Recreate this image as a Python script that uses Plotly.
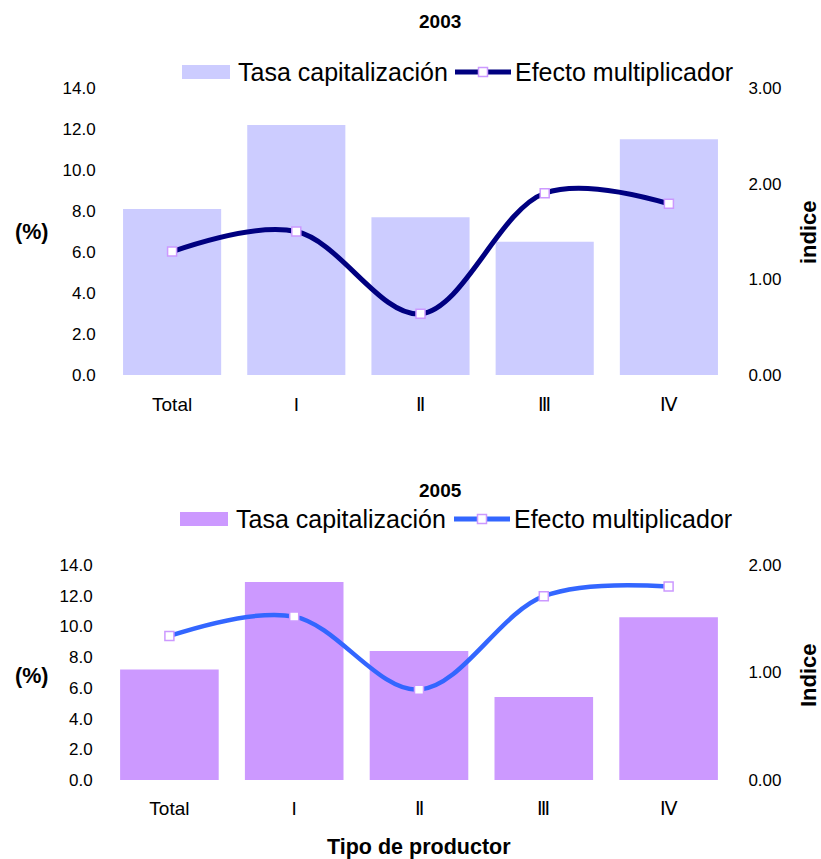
import plotly.graph_objects as go

W, H = 821, 859

categories = ["Total", "I", "Ⅱ", "Ⅲ", "Ⅳ"]
rate_2003 = [8.1, 12.2, 7.7, 6.5, 11.5]
mult_2003 = [1.29, 1.50, 0.64, 1.90, 1.79]
rate_2005 = [7.2, 12.9, 8.4, 5.4, 10.6]
mult_2005 = [1.34, 1.52, 0.84, 1.71, 1.80]

FONT = "Liberation Sans, Arial, sans-serif"
BAR1, LINE1 = "#CCCCFF", "#000080"
BAR2, LINE2 = "#CC99FF", "#3366FF"
MK_EDGE = "#CC99FF"


def px(x):
    return x / W


def py(y):
    return 1 - y / H


fig = go.Figure()

# 2003
fig.add_trace(go.Bar(x=categories, y=rate_2003, marker=dict(color=BAR1, line=dict(width=0)),
                     xaxis="x", yaxis="y", showlegend=False, name="Tasa capitalización"))
fig.add_trace(go.Scatter(x=categories, y=mult_2003, mode="lines+markers",
                         line=dict(color=LINE1, width=5, shape="spline", smoothing=1.0),
                         marker=dict(symbol="square", size=9, color="white",
                                     line=dict(color=MK_EDGE, width=1.5)),
                         xaxis="x", yaxis="y2", showlegend=False, name="Efecto multiplicador"))
# 2005
fig.add_trace(go.Bar(x=categories, y=rate_2005, marker=dict(color=BAR2, line=dict(width=0)),
                     xaxis="x2", yaxis="y3", showlegend=False, name="Tasa capitalización"))
fig.add_trace(go.Scatter(x=categories, y=mult_2005, mode="lines+markers",
                         line=dict(color=LINE2, width=4.5, shape="spline", smoothing=1.0),
                         marker=dict(symbol="square", size=9, color="white",
                                     line=dict(color=MK_EDGE, width=1.5)),
                         xaxis="x2", yaxis="y4", showlegend=False, name="Efecto multiplicador"))

ytickfont = dict(family=FONT, size=17, color="black")
xtickfont = dict(family=FONT, size=19, color="black")
common_y = dict(showgrid=False, zeroline=False, showline=False, tickfont=ytickfont,
                ticks="outside", tickcolor="rgba(0,0,0,0)", automargin=False)
common_x = dict(showgrid=False, zeroline=False, showline=False, tickfont=xtickfont,
                ticks="outside", tickcolor="rgba(0,0,0,0)", automargin=False)

fig.update_layout(
    width=W, height=H,
    autosize=False,
    margin=dict(l=0, r=0, t=0, b=0, pad=0, autoexpand=False),
    paper_bgcolor="white", plot_bgcolor="white",
    bargap=0.21,
    font=dict(family=FONT, color="black"),
    xaxis=dict(domain=[px(110), px(731)], anchor="y", ticklen=12, **common_x),
    yaxis=dict(domain=[py(375), py(88)], anchor="x", range=[0, 14], dtick=2,
               tickformat=".1f", ticklen=10, **common_y),
    yaxis2=dict(overlaying="y", side="right", anchor="x", range=[0, 3], dtick=1,
                tickformat=".2f", ticklen=13, **common_y),
    xaxis2=dict(domain=[px(107), px(731)], anchor="y3", ticklen=11, **common_x),
    yaxis3=dict(domain=[py(780), py(565)], anchor="x2", range=[0, 14], dtick=2,
                tickformat=".1f", ticklen=10, **common_y),
    yaxis4=dict(overlaying="y3", side="right", anchor="x2", range=[0, 2], dtick=1,
                tickformat=".2f", ticklen=13, **common_y),
)

annotations = []
shapes = []


def text(x, y, s, size, bold=False, xanchor="center", angle=0):
    annotations.append(dict(
        x=px(x), y=py(y), xref="paper", yref="paper", showarrow=False,
        text=f"<b>{s}</b>" if bold else s, textangle=angle,
        xanchor=xanchor, yanchor="middle",
        font=dict(family=FONT, size=size, color="black")))


def legend(y, bar_color, line_color, sw_x0, txt1_x, ln_x0, ln_x1, txt2_x):
    shapes.append(dict(type="rect", xref="paper", yref="paper",
                       x0=px(sw_x0), x1=px(sw_x0 + 48), y0=py(y + 7), y1=py(y - 7),
                       fillcolor=bar_color, line=dict(width=0)))
    text(txt1_x, y, "Tasa capitalización", 25, xanchor="left")
    shapes.append(dict(type="line", xref="paper", yref="paper",
                       x0=px(ln_x0), x1=px(ln_x1), y0=py(y), y1=py(y),
                       line=dict(color=line_color, width=5)))
    mx = (ln_x0 + ln_x1) / 2
    shapes.append(dict(type="rect", xref="paper", yref="paper",
                       x0=px(mx - 4.5), x1=px(mx + 4.5), y0=py(y + 4.5), y1=py(y - 4.5),
                       fillcolor="white", line=dict(color=MK_EDGE, width=1.5)))
    text(txt2_x, y, "Efecto multiplicador", 25, xanchor="left")


# titles
text(440, 22, "2003", 19, bold=True)
text(440, 490, "2005", 19, bold=True)
legend(72, BAR1, LINE1, 182, 236, 455, 511, 513)
legend(519, BAR2, LINE2, 180, 234, 454, 510, 512)

# axis titles
text(31, 232, "(%)", 21.5, bold=True)
text(808, 232, "indice", 22, bold=True, angle=-90)
text(31, 676, "(%)", 21.5, bold=True)
text(808, 675, "Indice", 22, bold=True, angle=-90)
text(419, 847, "Tipo de productor", 21.5, bold=True)

fig.update_layout(annotations=annotations, shapes=shapes)

fig.write_html(
    "out.html",
    config={"displayModeBar": False},
    post_script="document.body.style.margin='0';document.body.style.overflow='hidden';",
)
